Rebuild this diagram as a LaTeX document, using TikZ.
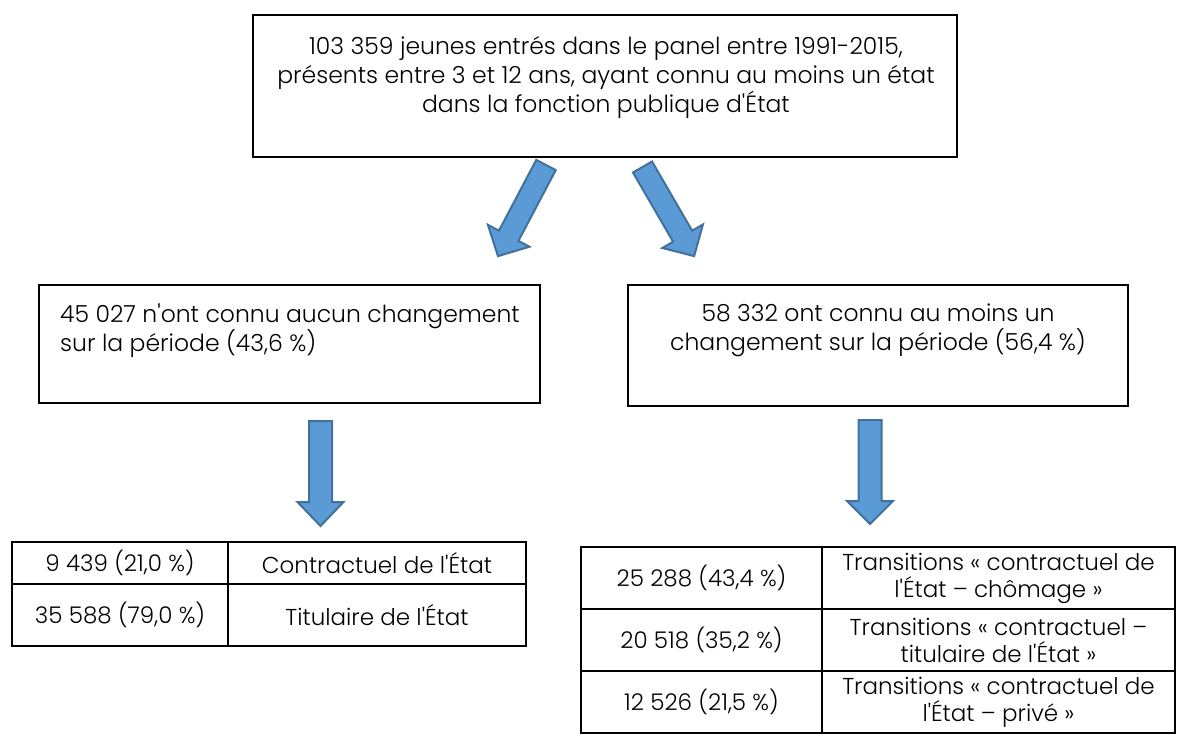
\documentclass[tikz,border=0pt]{standalone}
\usepackage{fontspec}
\setmainfont{Poppins}[UprightFont=* Light]
\definecolor{arrfill}{HTML}{5B9BD5}
\definecolor{arrline}{HTML}{41719C}
\newcommand{\ap}{\textquotesingle}
\begin{document}
\begin{tikzpicture}[x=1pt,y=-1pt,
  txt/.style={inner sep=0pt, font=\fontsize{23.5}{29}\selectfont},
  boxA/.style={draw=black, line width=1.3pt, inner sep=0pt},
  topbox/.style={draw=black, line width=2pt, inner sep=0pt},
  cell/.style={draw=black, line width=2pt, inner sep=0pt, align=center,
    font=\fontsize{23}{27}\selectfont},
  barrow/.style={fill=arrfill, draw=arrline, line width=2pt, line join=miter}]
\useasboundingbox (0,0) rectangle (1177,734);
% top box
\node[topbox, minimum width=704, minimum height=142] (top) at (605,86) {};
\node[txt, align=center, anchor=north] (toptext) at (606,36)
  {103 359 jeunes entrés dans le panel entre 1991-2015,\\
   présents entre 3 et 12 ans, ayant connu au moins un état\\
   dans la fonction publique d\ap État};
% middle boxes
\node[boxA, minimum width=501, minimum height=118] (left) at (289.5,344) {};
\node[txt, align=left, anchor=north west] (lefttext) at (60,304)
  {45 027 n\ap ont connu aucun changement\\sur la période (43,6 \%)};
\node[boxA, minimum width=500, minimum height=121] (right) at (878,345.5) {};
\node[txt, align=center, anchor=north] (righttext) at (878,304)
  {58 332 ont connu au moins un\\changement sur la période (56,4 \%)};
% arrow anchors
\coordinate (t1) at (546,165);
\coordinate (t2) at (642.5,167);
\coordinate (t3) at (320.5,421);
\coordinate (t4) at (870,420);
\begin{scope}[shift={(t1)}, rotate=242.2]
  \draw[barrow] (0,-11)--(80,-11)--(80,-23.5)--(103,0)--(80,23.5)--(80,11)--(0,11)--cycle;
\end{scope}
\begin{scope}[shift={(t2)}, rotate=300.1]
  \draw[barrow] (0,-11)--(80,-11)--(80,-23.5)--(103,0)--(80,23.5)--(80,11)--(0,11)--cycle;
\end{scope}
\begin{scope}[shift={(t3)}, rotate=270]
  \draw[barrow] (0,-11.5)--(81,-11.5)--(81,-23)--(105,0)--(81,23)--(81,11.5)--(0,11.5)--cycle;
\end{scope}
\begin{scope}[shift={(t4)}, rotate=270]
  \draw[barrow] (0,-11.5)--(81,-11.5)--(81,-23)--(104,0)--(81,23)--(81,11.5)--(0,11.5)--cycle;
\end{scope}
% left table
\node[cell, minimum width=216, minimum height=42] (l11) at (120,563) {9 439 (21,0 \%)};
\node[cell, minimum width=298, minimum height=42] (l12) at (377,563) {Contractuel de l\ap État};
\node[cell, minimum width=216, minimum height=62] (l21) at (120,615) {35 588 (79,0 \%)};
\node[cell, minimum width=298, minimum height=62] (l22) at (377,615) {Titulaire de l\ap État};
% right table
\node[cell, minimum width=241, minimum height=62] (r11) at (701.5,578) {25 288 (43,4 \%)};
\node[cell, minimum width=353, minimum height=62] (r12) at (998.5,578) {Transitions « contractuel de\\l\ap État – chômage »};
\node[cell, minimum width=241, minimum height=62] (r21) at (701.5,640) {20 518 (35,2 \%)};
\node[cell, minimum width=353, minimum height=62] (r22) at (998.5,640) {Transitions « contractuel –\\titulaire de l\ap État »};
\node[cell, minimum width=241, minimum height=62] (r31) at (701.5,702) {12 526 (21,5 \%)};
\node[cell, minimum width=353, minimum height=62] (r32) at (998.5,702) {Transitions « contractuel de\\l\ap État – privé »};
\end{tikzpicture}
\end{document}
